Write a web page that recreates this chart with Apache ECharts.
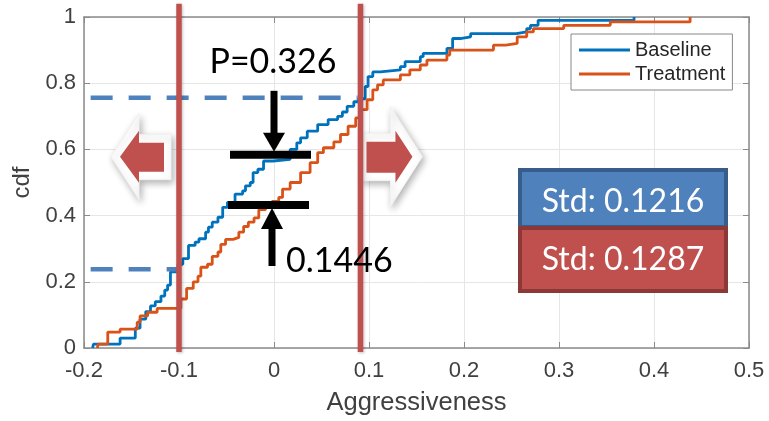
<!DOCTYPE html>
<html><head><meta charset="utf-8">
<script src="https://cdn.jsdelivr.net/npm/echarts@6/dist/echarts.min.js"></script>
<style>html,body{margin:0;padding:0;background:#fff}#c{width:769px;height:421px}</style>
</head><body><div id="c"></div>
<script>
// ---- data ----
const xTicks = [-0.2, -0.1, 0, 0.1, 0.2, 0.3, 0.4, 0.5];
const yTicks = [0, 0.2, 0.4, 0.6, 0.8, 1];

const baselineX = [-0.191, -0.190, -0.162, -0.146, -0.141, -0.135, -0.130, -0.125, -0.119, -0.115, -0.112, -0.109, -0.101, -0.096, -0.090, -0.083, -0.079, -0.072, -0.069, -0.065, -0.059, -0.054, -0.049, -0.041, -0.033, -0.030, -0.025, -0.022, -0.017, -0.011, -0.001, 0.017, 0.024, 0.028, 0.035, 0.046, 0.057, 0.067, 0.072, 0.077, 0.084, 0.089, 0.096, 0.099, 0.104, 0.112, 0.133, 0.138, 0.154, 0.157, 0.182, 0.188, 0.196, 0.207, 0.255, 0.266, 0.270, 0.278, 0.379];
const baselineY = [0, 0.012, 0.03, 0.06, 0.087, 0.11, 0.127, 0.14, 0.157, 0.175, 0.19, 0.23, 0.253, 0.27, 0.31, 0.32, 0.33, 0.35, 0.365, 0.38, 0.395, 0.425, 0.44, 0.465, 0.475, 0.49, 0.50, 0.53, 0.54, 0.565, 0.57, 0.60, 0.62, 0.635, 0.655, 0.675, 0.69, 0.70, 0.713, 0.73, 0.744, 0.753, 0.79, 0.82, 0.834, 0.84, 0.85, 0.865, 0.88, 0.89, 0.905, 0.935, 0.94, 0.95, 0.955, 0.965, 0.975, 0.99, 1.0];

const treatmentX = [-0.186, -0.185, -0.175, -0.162, -0.144, -0.141, -0.133, -0.123, -0.098, -0.092, -0.085, -0.080, -0.077, -0.070, -0.065, -0.059, -0.056, -0.051, -0.043, -0.037, -0.032, -0.027, -0.021, -0.016, -0.009, -0.002, 0.005, 0.009, 0.017, 0.028, 0.038, 0.046, 0.052, 0.063, 0.070, 0.078, 0.086, 0.091, 0.098, 0.104, 0.109, 0.115, 0.133, 0.143, 0.154, 0.161, 0.182, 0.185, 0.231, 0.244, 0.256, 0.266, 0.273, 0.305, 0.354, 0.438];
const treatmentY = [0, 0.012, 0.048, 0.057, 0.078, 0.097, 0.108, 0.12, 0.148, 0.18, 0.20, 0.217, 0.244, 0.253, 0.277, 0.29, 0.313, 0.328, 0.334, 0.35, 0.367, 0.38, 0.393, 0.418, 0.428, 0.443, 0.455, 0.48, 0.50, 0.53, 0.56, 0.59, 0.605, 0.623, 0.645, 0.67, 0.695, 0.72, 0.75, 0.78, 0.795, 0.81, 0.825, 0.84, 0.855, 0.87, 0.885, 0.90, 0.915, 0.92, 0.94, 0.955, 0.965, 0.975, 0.985, 1.0];

const thresholds = [-0.1, 0.091];       // red vertical lines
const dashLevels = [0.756, 0.238];      // blue dashed levels
const dashEnds = [0.088, -0.1];         // where each dashed level ends
const pText = 'P=0.326';
const gapText = '0.1446';
const stdBaseline = 'Std: 0.1216';
const stdTreatment = 'Std: 0.1287';

// ---- chart ----
const chart = echarts.init(document.getElementById('c'), null, {renderer: 'canvas'});
const AX = '#8a8a8a';
const LBL = '#404040';
const FONT = '"Liberation Sans", Arial, sans-serif';
const fmt = v => String(Math.round(v * 10) / 10);

const option = {
  animation: false,
  backgroundColor: '#fff',
  grid: {left: 84, right: 20, top: 17, bottom: 72, show: false},
  legend: {
    data: ['Baseline', 'Treatment'],
    orient: 'vertical', left: 571, top: 34,
    backgroundColor: '#fff', borderColor: '#888', borderWidth: 1,
    padding: [6, 7, 6, 8], itemGap: 4, itemWidth: 51, itemHeight: 14,
    textStyle: {fontFamily: FONT, fontSize: 20, color: '#262626'},
    icon: 'path://M0,6 L51,6 L51,9 L0,9 Z'
  },
  xAxis: [{
    type: 'value', min: xTicks[0], max: xTicks[xTicks.length - 1], interval: 0.1,
    axisLine: {show: true, onZero: false, lineStyle: {color: AX, width: 1.5}},
    axisTick: {show: true, inside: true, length: 6, lineStyle: {color: AX}},
    splitLine: {show: true, lineStyle: {color: '#e6e6e6', width: 1}},
    axisLabel: {fontFamily: FONT, fontSize: 22, color: LBL, margin: 12, formatter: fmt},
    name: 'Aggressiveness', nameLocation: 'middle', nameGap: 42,
    nameTextStyle: {fontFamily: FONT, fontSize: 25.5, color: LBL}
  }, {
    type: 'value', position: 'top', min: xTicks[0], max: xTicks[xTicks.length - 1], interval: 0.1,
    axisLine: {show: true, onZero: false, lineStyle: {color: AX, width: 1.5}},
    axisTick: {show: true, inside: true, length: 6, lineStyle: {color: AX}},
    splitLine: {show: false}, axisLabel: {show: false}
  }],
  yAxis: [{
    type: 'value', min: yTicks[0], max: yTicks[yTicks.length - 1], interval: 0.2,
    axisLine: {show: true, onZero: false, lineStyle: {color: AX, width: 1.5}},
    axisTick: {show: true, inside: true, length: 6, lineStyle: {color: AX}},
    splitLine: {show: true, lineStyle: {color: '#e6e6e6', width: 1}},
    axisLabel: {fontFamily: FONT, fontSize: 22, color: LBL, margin: 8, formatter: fmt},
    name: 'cdf', nameLocation: 'middle', nameGap: 43, nameRotate: 90,
    nameTextStyle: {fontFamily: FONT, fontSize: 24, color: LBL}
  }, {
    type: 'value', position: 'right', min: yTicks[0], max: yTicks[yTicks.length - 1], interval: 0.2,
    axisLine: {show: true, onZero: false, lineStyle: {color: AX, width: 1.5}},
    axisTick: {show: true, inside: true, length: 6, lineStyle: {color: AX}},
    splitLine: {show: false}, axisLabel: {show: false}
  }],
  series: [{
    name: 'Baseline', type: 'line', step: 'end', symbol: 'none',
    xAxisIndex: 0, yAxisIndex: 0,
    lineStyle: {color: '#0072BD', width: 2.8}, itemStyle: {color: '#0072BD'},
    data: baselineX.map((x, i) => [x, baselineY[i]]), z: 3
  }, {
    name: 'Treatment', type: 'line', step: 'end', symbol: 'none',
    xAxisIndex: 0, yAxisIndex: 0,
    lineStyle: {color: '#D95319', width: 2.8}, itemStyle: {color: '#D95319'},
    data: treatmentX.map((x, i) => [x, treatmentY[i]]), z: 4
  }]
};
chart.setOption(option);

// ---- annotations ----
const P = (x, y) => chart.convertToPixel({gridIndex: 0}, [x, y]);
const g = [];
const RED = '#C0504D';
const BLUE = '#4F81BD';

// blue dashed levels
dashLevels.forEach((lv, i) => {
  const a = P(-0.193, lv), b = P(dashEnds[i], lv);
  g.push({type: 'line', z: 10, shape: {x1: a[0], y1: a[1], x2: b[0], y2: b[1]},
    style: {stroke: BLUE, lineWidth: 4.5, lineDash: [22, 16]}});
});

// big decorative arrows (white outline with shadow, red fill)
const arrowY = P(0, 0.578)[1];
const lx = P(-0.1, 0)[0];
// left arrow
g.push({type: 'polygon', z: 11, shape: {points: [[lx - 68, arrowY], [lx - 40, arrowY - 43], [lx - 40, arrowY - 22], [lx - 8, arrowY - 22], [lx - 8, arrowY + 23], [lx - 40, arrowY + 23], [lx - 40, arrowY + 43]]},
  style: {fill: '#fff', stroke: '#f2f2f2', lineWidth: 1, shadowBlur: 7, shadowColor: 'rgba(0,0,0,0.3)', shadowOffsetX: 2, shadowOffsetY: 3}});
g.push({type: 'polygon', z: 12, shape: {points: [[lx - 59, arrowY], [lx - 40, arrowY - 26], [lx - 40, arrowY - 14], [lx - 15, arrowY - 14], [lx - 15, arrowY + 15], [lx - 40, arrowY + 15], [lx - 40, arrowY + 26]]},
  style: {fill: RED}});
// right arrow
const rx = P(0.091, 0)[0];
g.push({type: 'polygon', z: 11, shape: {points: [[rx + 62, arrowY], [rx + 30, arrowY - 50], [rx + 30, arrowY - 23], [rx + 2, arrowY - 23], [rx + 2, arrowY + 24], [rx + 30, arrowY + 24], [rx + 30, arrowY + 50]]},
  style: {fill: '#fff', stroke: '#f2f2f2', lineWidth: 1, shadowBlur: 7, shadowColor: 'rgba(0,0,0,0.3)', shadowOffsetX: 2, shadowOffsetY: 3}});
g.push({type: 'polygon', z: 12, shape: {points: [[rx + 52, arrowY], [rx + 35, arrowY - 26], [rx + 35, arrowY - 15], [rx + 6, arrowY - 15], [rx + 6, arrowY + 16], [rx + 35, arrowY + 16], [rx + 35, arrowY + 26]]},
  style: {fill: RED}});

// red vertical threshold lines
thresholds.forEach(t => {
  const a = P(t, 1.04), b = P(t, -0.012);
  g.push({type: 'line', z: 20, shape: {x1: a[0], y1: a[1], x2: b[0], y2: b[1]},
    style: {stroke: RED, lineWidth: 5.5, shadowBlur: 3, shadowColor: 'rgba(0,0,0,0.25)', shadowOffsetX: 1, shadowOffsetY: 1}});
});

// black difference markers
const topBar = P(0, 0.584), botBar = P(0, 0.432);
const cx = topBar[0];
g.push({type: 'rect', z: 30, shape: {x: cx - 44, y: topBar[1] - 4, width: 81, height: 8}, style: {fill: '#000'}});
g.push({type: 'rect', z: 30, shape: {x: cx - 3.5, y: P(0, 0.777)[1], width: 7, height: topBar[1] - 20 - P(0, 0.777)[1] + 1}, style: {fill: '#000'}});
g.push({type: 'polygon', z: 30, shape: {points: [[cx - 11, topBar[1] - 22], [cx + 11, topBar[1] - 22], [cx, topBar[1] - 3]]}, style: {fill: '#000'}});
const cx2 = cx - 2;
g.push({type: 'rect', z: 30, shape: {x: cx2 - 44, y: botBar[1] - 4, width: 81, height: 8}, style: {fill: '#000'}});
g.push({type: 'polygon', z: 30, shape: {points: [[cx2 - 11, botBar[1] + 24], [cx2 + 11, botBar[1] + 24], [cx2, botBar[1] + 3]]}, style: {fill: '#000'}});
g.push({type: 'rect', z: 30, shape: {x: cx2 - 3.5, y: botBar[1] + 22, width: 7, height: 39}, style: {fill: '#000'}});

g.push({type: 'text', z: 30, x: cx - 1, y: 62, style: {text: pText, fill: '#000', font: '34px Lato, "Open Sans", sans-serif', align: 'center', verticalAlign: 'middle'}});
g.push({type: 'text', z: 30, x: 286, y: 261, style: {text: gapText, fill: '#000', font: '34px Lato, "Open Sans", sans-serif', align: 'left', verticalAlign: 'middle'}});

// std boxes
g.push({type: 'rect', z: 30, shape: {x: 520, y: 170, width: 206, height: 57}, style: {fill: BLUE, stroke: '#385D8A', lineWidth: 4}});
g.push({type: 'rect', z: 31, shape: {x: 520, y: 228, width: 206, height: 63}, style: {fill: RED, stroke: '#8C3836', lineWidth: 4}});
g.push({type: 'text', z: 32, x: 623, y: 202, style: {text: stdBaseline, fill: '#fff', font: '32px Lato, "Open Sans", sans-serif', align: 'center', verticalAlign: 'middle'}});
g.push({type: 'text', z: 32, x: 623, y: 260, style: {text: stdTreatment, fill: '#fff', font: '32px Lato, "Open Sans", sans-serif', align: 'center', verticalAlign: 'middle'}});

chart.setOption({graphic: {elements: g}});
</script>
</body></html>
